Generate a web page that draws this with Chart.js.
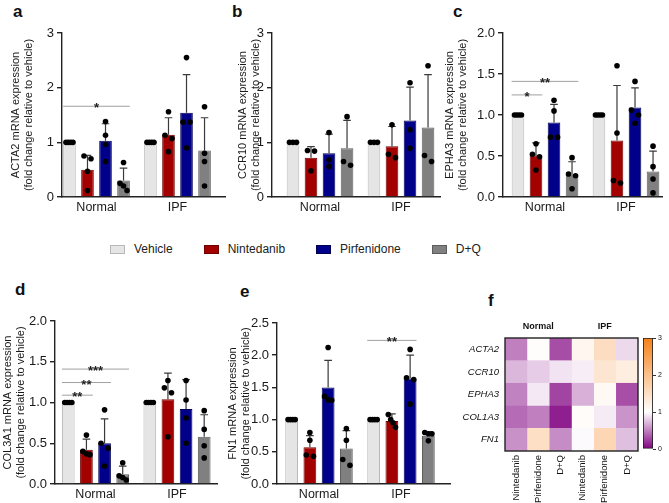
<!DOCTYPE html>
<html>
<head>
<meta charset="utf-8">
<script src="https://cdn.jsdelivr.net/npm/chart.js@4.4.1/dist/chart.umd.min.js"></script>
<style>
  body { margin: 0; background: #fff; width: 669px; height: 503px; position: relative; overflow: hidden;
         font-family: "Liberation Sans", Arial, sans-serif; }
  canvas { position: absolute; }
  .tag { position: absolute; font-weight: bold; font-size: 17px; color: #111; line-height: 1; }
  #legend { position: absolute; left: 110px; top: 242px; display: flex; gap: 31px; font-size: 12px; color: #222; }
  #legend span.box { display: inline-block; width: 15px; height: 9px; margin-right: 9px; vertical-align: -1px; box-sizing: border-box; }
</style>
</head>
<body>
<div class="tag" style="left:13px;top:3px">a</div>
<div class="tag" style="left:232px;top:3px">b</div>
<div class="tag" style="left:453px;top:3px">c</div>
<div class="tag" style="left:15px;top:281px">d</div>
<div class="tag" style="left:240px;top:283px">e</div>
<div class="tag" style="left:488px;top:292px">f</div>
<div id="legend"></div>

<script>
// shared categories / series
const groups = ['Normal', 'IPF'];
const treatments = ['Vehicle', 'Nintedanib', 'Pirfenidone', 'D+Q'];
const fills = ['#e5e5e5', '#a30000', '#00008b', '#808080'];
const edges = ['#b8b8b8', '#700000', '#000055', '#5c5c5c'];

// a - ACTA2   (per treatment: [Normal, IPF])
const acta2Means = [[1, 1], [0.50, 1.14], [1.03, 1.54], [0.30, 0.85]];
const acta2Sd = [[0, 0], [0.26, 0.31], [0.31, 0.70], [0.23, 0.60]];
const acta2Dots = [
  [[1, 1, 1, 1], [1, 1, 1, 1]],
  [[0.75, 0.70, 0.47, 0.12], [1.56, 1.13, 1.07, 0.83]],
  [[1.38, 1.13, 0.96, 0.65], [2.55, 1.37, 1.37, 0.90]],
  [[0.63, 0.25, 0.20, 0.12], [1.65, 0.80, 0.65, 0.20]]
];
const acta2Sig = [[0, 0, 3, 1.66, '*']];   // group, from, to, y, label
const acta2Ticks = [0, 1, 2, 3];

// b - CCR10
const ccr10Means = [[1, 1], [0.72, 0.93], [0.80, 1.40], [0.89, 1.27]];
const ccr10Sd = [[0, 0], [0.20, 0.36], [0.35, 0.61], [0.51, 0.97]];
const ccr10Dots = [
  [[1, 1, 1], [1, 1, 1]],
  [[0.85, 0.84, 0.48], [1.32, 0.78, 0.72]],
  [[1.18, 0.68, 0.56], [2.09, 1.23, 0.89]],
  [[1.47, 0.65, 0.58], [2.40, 0.76, 0.65]]
];
const ccr10Sig = [];
const ccr10Ticks = [0, 1, 2, 3];

// c - EPHA3
const epha3Means = [[1, 1], [0.51, 0.69], [0.91, 1.09], [0.27, 0.31]];
const epha3Sd = [[0, 0], [0.15, 0.67], [0.22, 0.24], [0.16, 0.25]];
const epha3Dots = [
  [[1, 1, 1, 1], [1, 1, 1, 1]],
  [[0.65, 0.52, 0.49, 0.33], [1.60, 0.78, 0.20, 0.17]],
  [[1.18, 1.05, 0.73, 0.73], [1.41, 1.06, 1.00, 0.90]],
  [[0.48, 0.28, 0.26, 0.10], [0.62, 0.37, 0.22, 0.05]]
];
const epha3Sig = [[0, 0, 3, 1.41, '**'], [0, 0, 1, 1.245, '*']];
const epha3Ticks = [0, 0.5, 1, 1.5, 2];

// d - COL3A1
const col3a1Means = [[1, 1], [0.42, 1.04], [0.50, 0.92], [0.12, 0.58]];
const col3a1Sd = [[0, 0], [0.13, 0.32], [0.30, 0.36], [0.10, 0.27]];
const col3a1Dots = [
  [[1, 1, 1, 1], [1, 1, 1, 1]],
  [[0.60, 0.40, 0.37, 0.36], [1.27, 1.18, 1.12, 0.58]],
  [[0.91, 0.50, 0.44, 0.22], [1.27, 1.03, 0.81, 0.50]],
  [[0.26, 0.10, 0.08, 0.05], [0.90, 0.67, 0.47, 0.32]]
];
const col3a1Sig = [[0, 0, 3, 1.41, '***'], [0, 0, 2, 1.245, '**'], [0, 0, 1, 1.09, '**']];
const col3a1Ticks = [0, 0.5, 1, 1.5, 2];

// e - FN1
const fn1Means = [[1, 1], [0.57, 0.98], [1.50, 1.64], [0.55, 0.75]];
const fn1Sd = [[0, 0], [0.18, 0.11], [0.42, 0.36], [0.28, 0.06]];
const fn1Dots = [
  [[1, 1, 1, 1], [1, 1, 1, 1]],
  [[0.80, 0.68, 0.45, 0.43], [1.08, 1.00, 0.95, 0.88]],
  [[2.12, 1.36, 1.31, 1.30], [2.09, 1.65, 1.62, 1.24]],
  [[0.86, 0.68, 0.38, 0.29], [0.80, 0.78, 0.78, 0.67]]
];
const fn1Sig = [[1, 0, 2, 2.23, '**']];
const fn1Ticks = [0, 0.5, 1, 1.5, 2, 2.5];

// f - heatmap (fold change vs vehicle)
const heatGenes = ['ACTA2', 'CCR10', 'EPHA3', 'COL1A3', 'FN1'];
const heatCols = ['Nintedanib', 'Pirfenidone', 'D+Q', 'Nintedanib', 'Pirfenidone', 'D+Q'];
const heatValues = [
  [0.50, 1.03, 0.30, 1.14, 1.54, 0.85],
  [0.72, 0.80, 0.89, 0.93, 1.40, 1.27],
  [0.51, 0.91, 0.27, 0.69, 1.09, 0.31],
  [0.42, 0.50, 0.12, 1.04, 0.92, 0.58],
  [0.57, 1.50, 0.55, 0.98, 1.64, 0.75]
];
const scaleTicks = [0, 1, 2, 3];

// legend
document.getElementById('legend').innerHTML = treatments.map((t, i) =>
  `<div><span class="box" style="background:${fills[i]};border:1px solid ${edges[i]}"></span>${t}</div>`
).join('');

// error bars, dots and significance lines on top of the bars
const overlay = {
  id: 'overlay',
  afterDatasetsDraw(chart, args, o) {
    const ctx = chart.ctx, ys = chart.scales.y;
    ctx.save();
    // error bars (upper only)
    o.means.forEach((row, i) => {
      const meta = chart.getDatasetMeta(i);
      row.forEach((m, j) => {
        const sd = o.sd[i][j];
        if (!sd) return;
        const bar = meta.data[j];
        const top = ys.getPixelForValue(m + sd);
        ctx.strokeStyle = '#3a3a3a';
        ctx.lineWidth = 1.2;
        ctx.beginPath();
        ctx.moveTo(bar.x, bar.y);
        ctx.lineTo(bar.x, top);
        ctx.moveTo(bar.x - bar.width * 0.3, top);
        ctx.lineTo(bar.x + bar.width * 0.3, top);
        ctx.stroke();
      });
    });
    // dots, spread sideways where they overlap
    const r = 2.8;
    ctx.fillStyle = '#000';
    o.dots.forEach((row, i) => {
      const meta = chart.getDatasetMeta(i);
      row.forEach((vals, j) => {
        const bar = meta.data[j];
        const pts = vals.map(v => ys.getPixelForValue(v)).sort((p, q) => p - q);
        const clusters = [];
        pts.forEach(p => {
          const last = clusters[clusters.length - 1];
          if (last && p - last[last.length - 1] < r * 2.2) last.push(p);
          else clusters.push([p]);
        });
        clusters.forEach(cl => {
          const n = cl.length;
          const step = n > 1 ? Math.min(r * 3.2, (bar.width - 2 * r) / (n - 1)) : 0;
          cl.forEach((p, k) => {
            ctx.beginPath();
            ctx.arc(bar.x + (k - (n - 1) / 2) * step, p, r, 0, Math.PI * 2);
            ctx.fill();
          });
        });
      });
    });
    // significance
    o.sig.forEach(([g, a, b, v, label]) => {
      const A = chart.getDatasetMeta(a).data[g], B = chart.getDatasetMeta(b).data[g];
      const py = ys.getPixelForValue(v);
      const x0 = A.x - A.width / 2, x1 = B.x + B.width / 2;
      ctx.strokeStyle = '#a0a0a0';
      ctx.lineWidth = 1;
      ctx.beginPath();
      ctx.moveTo(x0, py);
      ctx.lineTo(x1, py);
      ctx.stroke();
      ctx.fillStyle = '#222';
      ctx.font = 'bold 13px "Liberation Sans", Arial';
      ctx.textAlign = 'center';
      ctx.textBaseline = 'alphabetic';
      ctx.fillText(label, (x0 + x1) / 2, py + 6);
    });
    ctx.restore();
  }
};

function barPanel(p) {
  const cv = document.createElement('canvas');
  cv.width = p.w; cv.height = p.h;
  cv.style.left = p.left + 'px'; cv.style.top = p.top + 'px';
  document.body.appendChild(cv);
  const xmin = -(p.center - p.L) / p.pitch;
  const xmax = (p.R - p.center) / p.pitch;
  new Chart(cv, {
    type: 'bar',
    data: {
      datasets: treatments.map((t, i) => ({
        label: t,
        data: p.means[i].map((v, j) => ({ x: j, y: v })),
        backgroundColor: fills[i],
        borderColor: edges[i],
        borderWidth: 1,
        categoryPercentage: 0.89,
        barPercentage: 0.7
      }))
    },
    options: {
      responsive: false,
      animation: false,
      layout: { padding: { left: 0, top: p.T - p.top, right: p.left + p.w - p.R, bottom: 0 } },
      plugins: {
        legend: { display: false },
        tooltip: { enabled: false },
        overlay: { means: p.means, sd: p.sd, dots: p.dots, sig: p.sig }
      },
      scales: {
        x: {
          type: 'linear',
          offset: false,
          min: xmin,
          max: xmax,
          afterBuildTicks: s => { s.ticks = groups.map((g, j) => ({ value: j })); },
          afterFit: s => { s.height = p.top + p.h - p.B; },
          ticks: { callback: (v) => groups[v], color: '#1a1a1a', font: { size: 12.5 }, padding: 3, maxRotation: 0 },
          grid: { display: false, drawTicks: false },
          border: { display: true, color: '#222', width: 1.4 }
        },
        y: {
          min: 0,
          max: p.ticks[p.ticks.length - 1],
          afterBuildTicks: s => { s.ticks = p.ticks.map(v => ({ value: v })); },
          afterFit: s => { s.width = p.L - p.left; },
          ticks: {
            callback: v => p.dec ? v.toFixed(1) : String(v),
            color: '#1a1a1a', font: { size: 13 }, padding: 3
          },
          grid: { drawOnChartArea: false, drawTicks: true, tickLength: 5, color: '#222', lineWidth: 1.4 },
          border: { display: true, color: '#222', width: 1.4 },
          title: {
            display: true,
            text: [p.gene + ' mRNA expression', '(fold change relative to vehicle)'],
            color: '#1a1a1a',
            font: { size: 11, lineHeight: 1.22 },
            padding: { top: p.tpad, bottom: 0 }
          }
        }
      }
    },
    plugins: [overlay]
  });
}

barPanel({ gene: 'ACTA2', means: acta2Means, sd: acta2Sd, dots: acta2Dots, sig: acta2Sig, ticks: acta2Ticks, dec: false,
  left: 0, top: 0, w: 232, h: 225, L: 62, R: 225, T: 33, B: 197, center: 96.5, pitch: 81, tpad: 9 });
barPanel({ gene: 'CCR10', means: ccr10Means, sd: ccr10Sd, dots: ccr10Dots, sig: ccr10Sig, ticks: ccr10Ticks, dec: false,
  left: 220, top: 0, w: 228, h: 225, L: 272, R: 440, T: 33, B: 197, center: 320, pitch: 81, tpad: 16 });
barPanel({ gene: 'EPHA3', means: epha3Means, sd: epha3Sd, dots: epha3Dots, sig: epha3Sig, ticks: epha3Ticks, dec: true,
  left: 440, top: 0, w: 229, h: 225, L: 503, R: 662, T: 33, B: 197, center: 545, pitch: 81, tpad: 3 });
barPanel({ gene: 'COL3A1', means: col3a1Means, sd: col3a1Sd, dots: col3a1Dots, sig: col3a1Sig, ticks: col3a1Ticks, dec: true,
  left: 0, top: 250, w: 225, h: 253, L: 55, R: 217, T: 321, B: 484, center: 95.5, pitch: 81.5, tpad: 1 });
barPanel({ gene: 'FN1', means: fn1Means, sd: fn1Sd, dots: fn1Dots, sig: fn1Sig, ticks: fn1Ticks, dec: true,
  left: 220, top: 250, w: 232, h: 253, L: 277, R: 450, T: 323, B: 484, center: 319, pitch: 82, tpad: 6 });

// heatmap colour scale: purple (0) -> white (1) -> orange (3)
const purple = [128, 0, 128], white = [255, 255, 255], orange = [246, 128, 24];
function colormap(v) {
  const mix = (a, b, t) => a.map((c, k) => Math.round(c + (b[k] - c) * t));
  const c = v <= 1 ? mix(purple, white, Math.max(0, v)) : mix(white, orange, Math.min(1, (v - 1) / 2));
  return `rgb(${c[0]},${c[1]},${c[2]})`;
}

const frame = {
  id: 'frame',
  afterDatasetsDraw(chart) {
    const { ctx, chartArea: a } = chart;
    ctx.save();
    ctx.strokeStyle = '#222';
    ctx.lineWidth = 1.4;
    ctx.strokeRect(a.left, a.top, a.right - a.left, a.bottom - a.top);
    ctx.restore();
  }
};

const hm = document.createElement('canvas');
hm.width = 205; hm.height = 203;
hm.style.left = '440px'; hm.style.top = '300px';
document.body.appendChild(hm);
new Chart(hm, {
  type: 'bar',
  data: {
    labels: heatGenes,
    datasets: heatCols.map((c, k) => ({
      label: c,
      data: heatGenes.map(() => 1),
      backgroundColor: heatValues.map(row => colormap(row[k])),
      borderColor: heatValues.map(row => colormap(row[k])),
      borderWidth: 0.5,
      borderSkipped: false,
      barPercentage: 1,
      categoryPercentage: 1
    }))
  },
  options: {
    indexAxis: 'y',
    responsive: false,
    animation: false,
    layout: { padding: { left: 0, top: 0, right: 7, bottom: 0 } },
    plugins: { legend: { display: false }, tooltip: { enabled: false } },
    scales: {
      x: {
        stacked: true, min: 0, max: 6, position: 'bottom',
        afterBuildTicks: s => { s.ticks = heatCols.map((c, k) => ({ value: k + 0.5 })); },
        afterFit: s => { s.height = 52; },
        ticks: { callback: (v, i) => heatCols[i], minRotation: 90, maxRotation: 90, color: '#111', font: { size: 9.5 }, padding: 4 },
        grid: { display: false, drawTicks: false },
        border: { display: false }
      },
      x2: {
        type: 'linear', min: 0, max: 6, position: 'top',
        afterBuildTicks: s => { s.ticks = groups.map((g, j) => ({ value: 1.5 + 3 * j })); },
        afterFit: s => { s.height = 38; },
        ticks: { callback: (v, i) => groups[i], color: '#111', font: { size: 9, weight: 'bold' }, padding: 6, maxRotation: 0 },
        grid: { display: false, drawTicks: false },
        border: { display: false }
      },
      y: {
        stacked: true,
        afterFit: s => { s.width = 65; },
        ticks: { color: '#111', font: { size: 9.5, style: 'italic' }, padding: 6 },
        grid: { display: false, drawTicks: false },
        border: { display: false }
      }
    }
  },
  plugins: [frame]
});

// colour bar
const cb = document.createElement('canvas');
cb.width = 39; cb.height = 130;
cb.style.left = '630px'; cb.style.top = '330px';
document.body.appendChild(cb);
new Chart(cb, {
  type: 'bar',
  data: {
    labels: [''],
    datasets: [{
      data: [[scaleTicks[0], scaleTicks[scaleTicks.length - 1]]],
      backgroundColor: c => {
        const a = c.chart.chartArea;
        if (!a) return '#fff';
        const g = c.chart.ctx.createLinearGradient(0, a.bottom, 0, a.top);
        const top = scaleTicks[scaleTicks.length - 1];
        for (let v = 0; v <= top + 1e-9; v += 0.25) g.addColorStop(v / top, colormap(v));
        return g;
      },
      borderColor: '#222',
      borderWidth: 1.2,
      borderSkipped: false,
      barPercentage: 1,
      categoryPercentage: 1
    }]
  },
  options: {
    responsive: false,
    animation: false,
    layout: { padding: { left: 13, top: 8, right: 0, bottom: 11 } },
    plugins: { legend: { display: false }, tooltip: { enabled: false } },
    scales: {
      x: { display: false },
      y: {
        position: 'right', min: 0, max: 3,
        afterBuildTicks: s => { s.ticks = scaleTicks.map(v => ({ value: v })); },
        afterFit: s => { s.width = 16; },
        ticks: { color: '#111', font: { size: 7 }, padding: 2 },
        grid: { drawOnChartArea: false, tickLength: 3, color: '#333' },
        border: { display: false }
      }
    }
  }
});
</script>
</body>
</html>
